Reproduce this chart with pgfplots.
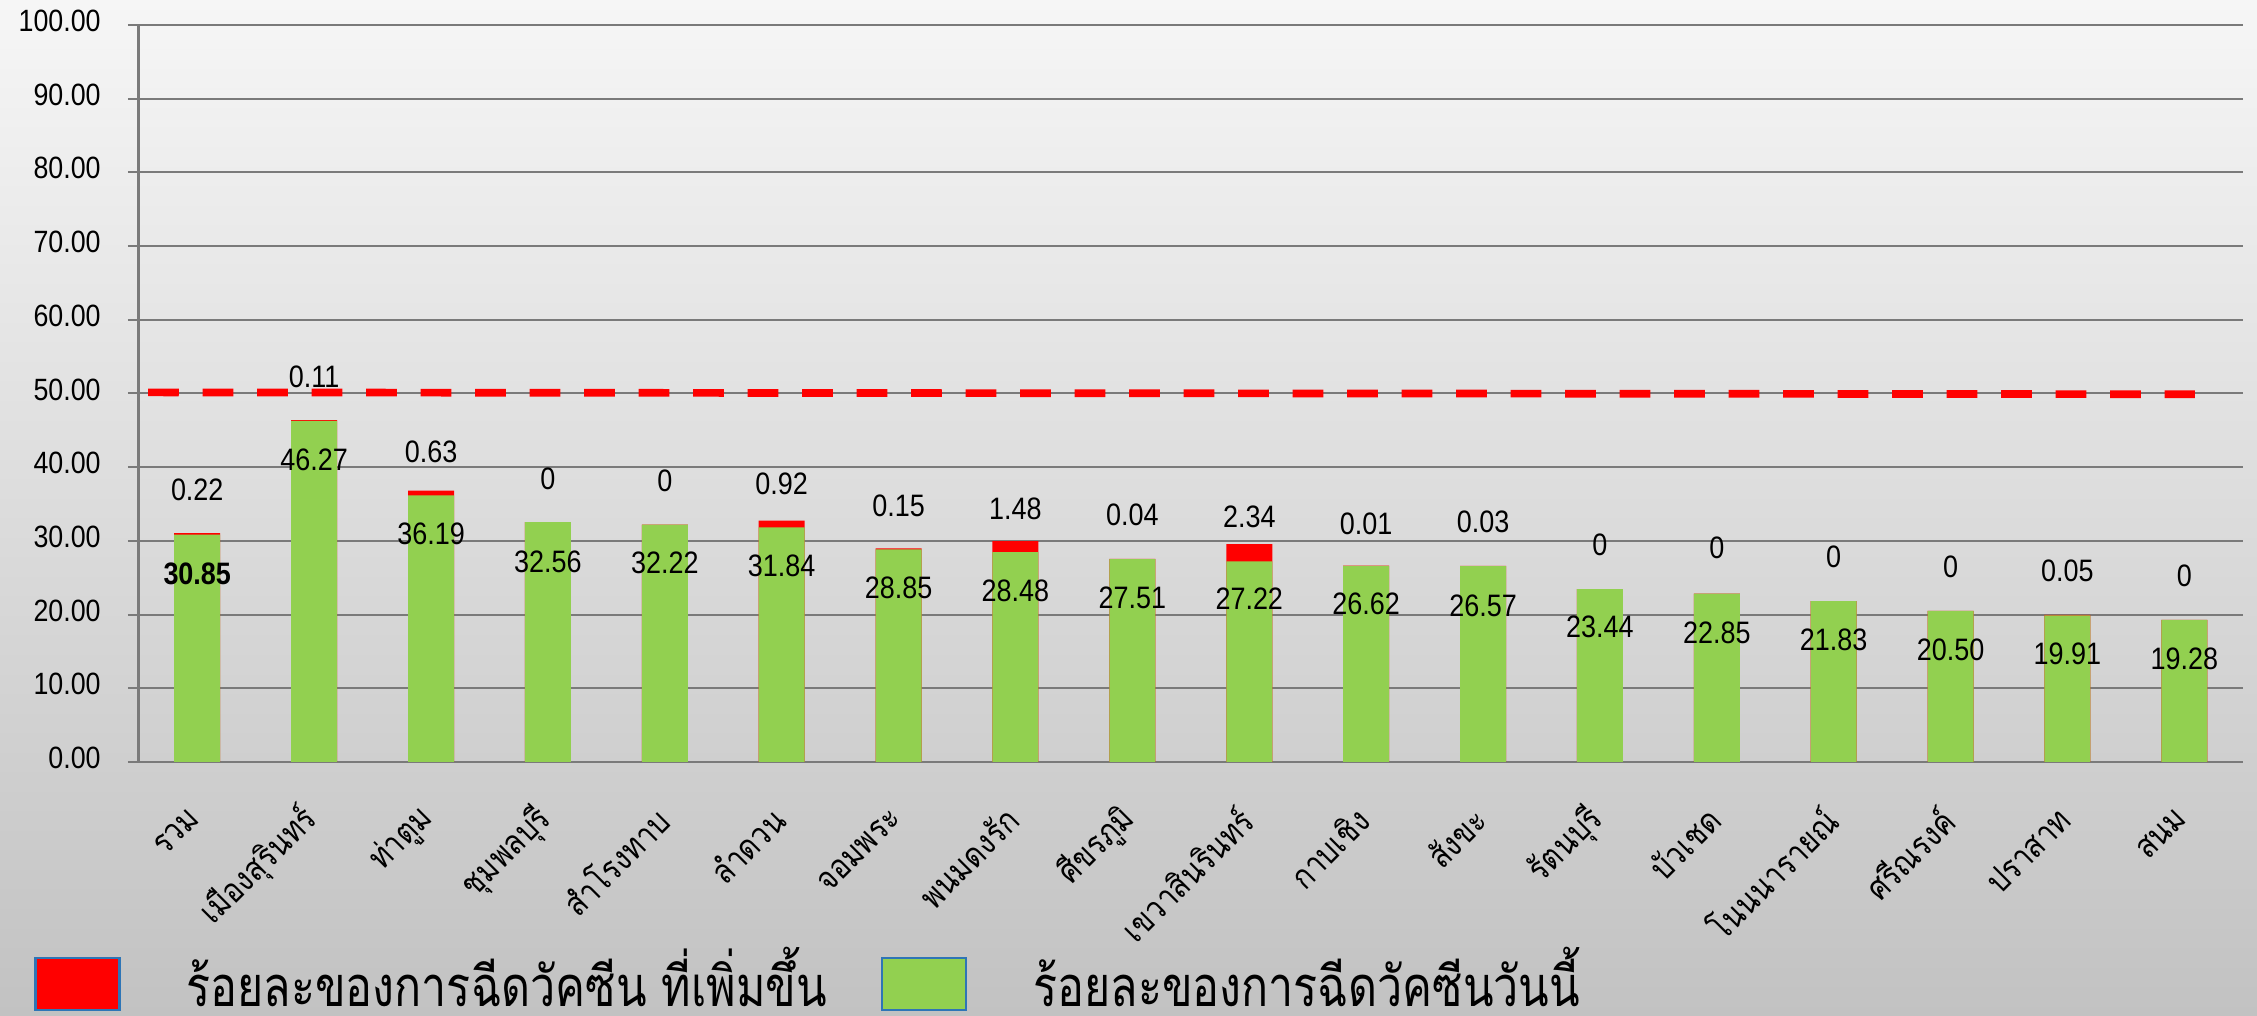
\documentclass[border=0pt]{standalone}
\usepackage{pgfplots}
\pgfplotsset{compat=1.18}
\usepackage{pgfplotstable}
\usepackage{fontspec}
\setmainfont{Liberation Sans}
\newfontfamily\thaifont[Script=Thai, FakeStretch=0.85]{Loma}
\newfontfamily\thaileg[Script=Thai, FakeStretch=0.8]{Loma}
\definecolor{barred}{HTML}{FF0000}
\definecolor{bargreen}{HTML}{92D050}
\definecolor{gridc}{HTML}{7A7A7A}
\definecolor{legblue}{HTML}{2E75B6}
\definecolor{bgtop}{HTML}{F6F6F6}
\definecolor{bgmid}{HTML}{E0E0E0}
\definecolor{bgbot}{HTML}{C2C2C2}

\pgfplotstableread[col sep=comma]{
x,g,r,gy,ry,gl,rl
0,30.85,0.22,25.5,36.9,\textbf{30.85},0.22
1,46.27,0.11,41.0,52.2,46.27,0.11
2,36.19,0.63,30.9,42.1,36.19,0.63
3,32.56,0,27.2,38.4,32.56,0
4,32.22,0,27.0,38.2,32.22,0
5,31.84,0.92,26.6,37.8,31.84,0.92
6,28.85,0.15,23.6,34.7,28.85,0.15
7,28.48,1.48,23.2,34.4,28.48,1.48
8,27.51,0.04,22.3,33.5,27.51,0.04
9,27.22,2.34,22.1,33.2,27.22,2.34
10,26.62,0.01,21.4,32.3,26.62,0.01
11,26.57,0.03,21.2,32.6,26.57,0.03
12,23.44,0,18.3,29.4,23.44,0
13,22.85,0,17.5,29.0,22.85,0
14,21.83,0,16.6,27.9,21.83,0
15,20.50,0,15.2,26.5,20.50,0
16,19.91,0.05,14.7,25.9,19.91,0.05
17,19.28,0,14.0,25.3,19.28,0
}\data

\begin{document}
\begin{tikzpicture}
\useasboundingbox (0,0) rectangle (1128.5pt,508pt);
\clip (0,0) rectangle (1128.5pt,508pt);
\shade[top color=bgtop, middle color=bgmid, bottom color=bgbot] (0,0) rectangle (1128.5pt,508pt);
\begin{axis}[
  at={(69.4pt,127pt)}, anchor=south west,
  scale only axis, width=1052pt, height=368.5pt,
  xmin=-0.5, xmax=17.5, ymin=0, ymax=100,
  axis x line*=bottom, axis y line*=left,
  axis line style={gridc, line width=1.4pt},
  ymajorgrids, grid style={gridc, line width=1pt},
  ytick={0,10,20,30,40,50,60,70,80,90,100},
  yticklabels={0.00,10.00,20.00,30.00,40.00,50.00,60.00,70.00,80.00,90.00,100.00},
  tick align=outside,
  major tick length=5.5pt,
  minor tick length=7pt,
  ytick style={gridc, line width=1pt},
  xtick={0,...,17},
  xtick style={draw=none},
  minor xtick={-0.5,0.5,...,17.5},
  minor x tick style={gridc, line width=1.2pt},
  xticklabels={รวม,เมืองสุรินทร์,ท่าตูม,ชุมพลบุรี,สำโรงทาบ,ลำดวน,จอมพระ,พนมดงรัก,ศีขรภูมิ,เขวาสินรินทร์,กาบเชิง,สังขะ,รัตนบุรี,บัวเชด,โนนนารายณ์,ศรีณรงค์,ปราสาท,สนม},
  xticklabel style={font=\thaifont\fontsize{17}{19}\selectfont, yshift=-18pt, xshift=1pt, rotate=45, anchor=east},
  yticklabel style={font=\fontsize{15.4}{18}\selectfont, xshift=-10.5pt, yshift=2pt, xscale=0.87},
  legend columns=2,
  legend style={at={(-0.0528,-0.2931)}, anchor=west, draw=none, fill=none,
    font=\thaileg\fontsize{28}{31}\selectfont,
    /tikz/every odd column/.append style={column sep=31pt},
    /tikz/every even column/.append style={column sep=25pt}},
  legend cell align=left,
]
\addplot[ybar, bar width=23pt, bar shift=0pt, fill=barred, draw=none, forget plot]
  table[x=x, y expr=\thisrow{g}+\thisrow{r}] {\data};
\addplot[ybar, bar width=23pt, bar shift=0pt, fill=bargreen, draw=none, forget plot]
  table[x=x, y=g] {\data};
\addplot[draw=barred, line width=3.85pt, dash pattern=on 15.3pt off 11.95pt, forget plot]
  coordinates {(-0.42,50.15) (17.09,49.9)};
\addplot[draw=none, mark=none, forget plot, nodes near coords, point meta=explicit symbolic,
  every node near coord/.append style={anchor=center, font=\fontsize{15.5}{17}\selectfont, xscale=0.87, text=black}]
  table[x=x, y=gy, meta=gl] {\data};
\addplot[draw=none, mark=none, forget plot, nodes near coords, point meta=explicit symbolic,
  every node near coord/.append style={anchor=center, font=\fontsize{15.5}{17}\selectfont, xscale=0.87, text=black}]
  table[x=x, y=ry, meta=rl] {\data};
\addlegendimage{legend image code/.code={\draw[fill=barred, draw=legblue, line width=1.2pt] (0pt,-16pt) rectangle (42pt,10pt);}}
\addlegendentry{ร้อยละของการฉีดวัคซีน ที่เพิ่มขึ้น}
\addlegendimage{legend image code/.code={\draw[fill=bargreen, draw=legblue, line width=1.2pt] (0pt,-16pt) rectangle (42pt,10pt);}}
\addlegendentry{ร้อยละของการฉีดวัคซีนวันนี้}
\end{axis}
\end{tikzpicture}
\end{document}
